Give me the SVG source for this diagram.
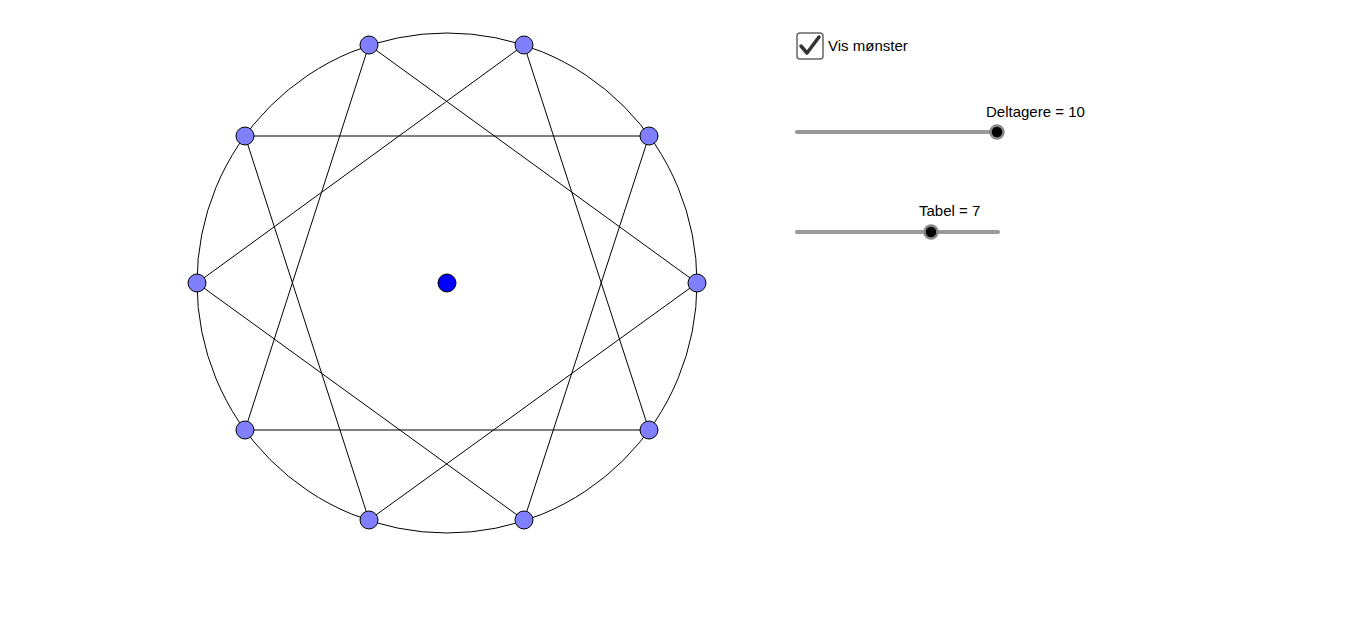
<svg xmlns="http://www.w3.org/2000/svg" width="1366" height="631" viewBox="0 0 1366 631">
<style>
.ln{stroke:#000;stroke-width:1;fill:none}
.pt{fill:#8080ff;stroke:#000;stroke-width:1}
.tx{font-family:"Liberation Sans",Arial,sans-serif;font-size:15px;fill:#000}
.track{stroke:#999;stroke-width:4;stroke-linecap:round}
.knob{fill:#000;stroke:#888;stroke-width:2.5}
</style>
<rect width="1366" height="631" fill="#fff"/>
<circle cx="447" cy="283" r="250" class="ln"/>
<g id="connectors" class="ln">
<line x1="245" y1="136" x2="649" y2="136"/>
<line x1="245" y1="430" x2="649" y2="430"/>
<line x1="369" y1="45" x2="245" y2="430"/>
<line x1="369" y1="45" x2="697" y2="283"/>
<line x1="524" y1="45" x2="197" y2="283"/>
<line x1="524" y1="45" x2="649" y2="430"/>
<line x1="649" y1="136" x2="524" y2="520"/>
<line x1="245" y1="136" x2="369" y2="520"/>
<line x1="197" y1="283" x2="524" y2="520"/>
<line x1="697" y1="283" x2="369" y2="520"/>
</g>
<g id="p0"><circle cx="697" cy="283" r="9" class="pt"/></g>
<g id="p1"><circle cx="649" cy="136" r="9" class="pt"/></g>
<g id="p2"><circle cx="524" cy="45" r="9" class="pt"/></g>
<g id="p3"><circle cx="369" cy="45" r="9" class="pt"/></g>
<g id="p4"><circle cx="245" cy="136" r="9" class="pt"/></g>
<g id="p5"><circle cx="197" cy="283" r="9" class="pt"/></g>
<g id="p6"><circle cx="245" cy="430" r="9" class="pt"/></g>
<g id="p7"><circle cx="369" cy="520" r="9" class="pt"/></g>
<g id="p8"><circle cx="524" cy="520" r="9" class="pt"/></g>
<g id="p9"><circle cx="649" cy="430" r="9" class="pt"/></g>
<g id="center"><circle cx="447" cy="283" r="9" fill="#0000ff" stroke="#000" stroke-width="1"/></g>
<g id="checkbox">
<rect x="797" y="33" width="26" height="26" rx="3" fill="#fff" stroke="#666" stroke-width="1.5"/>
<path d="M801 46 L807 53 L819 37" fill="none" stroke="#333" stroke-width="3.5" stroke-linecap="round" stroke-linejoin="round"/>
<text x="828" y="51" class="tx">Vis mønster</text>
</g>
<g id="slider1">
<line x1="797" y1="132" x2="997" y2="132" class="track"/>
<circle cx="997" cy="132" r="6.5" class="knob"/>
<text x="986" y="117" class="tx">Deltagere = 10</text>
</g>
<g id="slider2">
<line x1="797" y1="232" x2="998" y2="232" class="track"/>
<circle cx="931" cy="232" r="6.5" class="knob"/>
<text x="919" y="216" class="tx">Tabel = 7</text>
</g>
</svg>
